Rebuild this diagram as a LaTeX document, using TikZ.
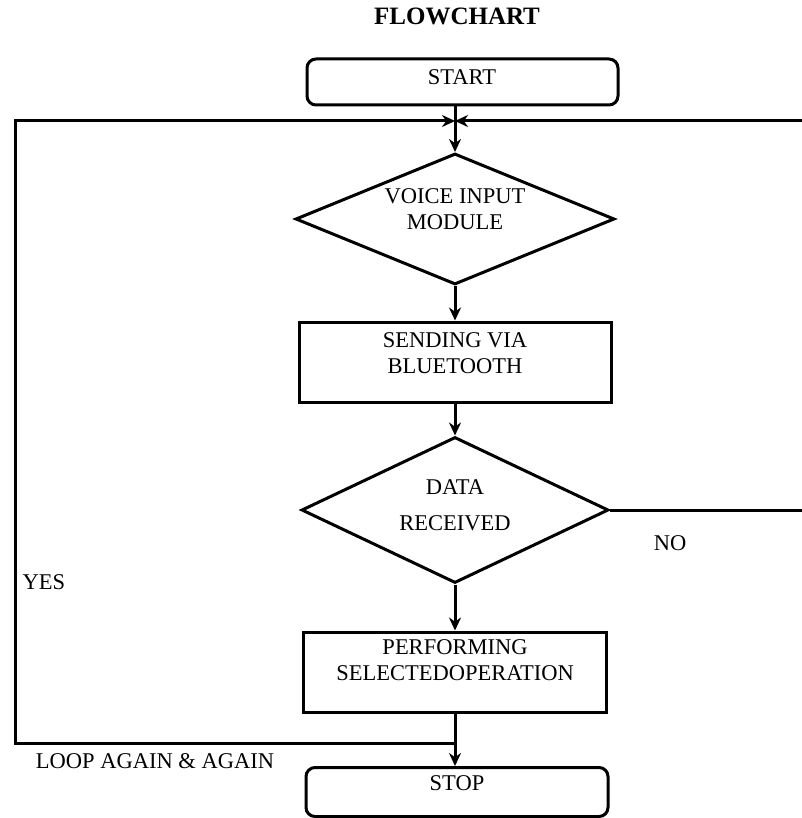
\documentclass[tikz,border=0pt]{standalone}
\usepackage{fontspec}
\setmainfont{Liberation Serif}
\usetikzlibrary{shapes.geometric,arrows.meta}
\begin{document}
\begin{tikzpicture}[x=1pt,y=-1pt,line width=3pt,line join=miter,
  arr/.style={-{Stealth[length=13pt,width=12pt]}},
  txt/.style={font=\fontsize{22.5}{26}\selectfont,inner sep=0pt,align=center},
  rbox/.style={draw,rectangle,rounded corners=9pt,inner sep=0pt},
  pbox/.style={draw,rectangle,inner sep=0pt},
  dbox/.style={draw,diamond,inner sep=0pt}]
\useasboundingbox (0,0) rectangle (801,818);
% title
\node[txt,font=\bfseries\fontsize{25}{28}\selectfont] (title) at (457,16) {FLOWCHART};
% shapes
\node[rbox,minimum width=311pt,minimum height=46pt] (start) at (462.5,82) {};
\node[dbox,minimum width=319pt,minimum height=131pt] (d1) at (455,219) {};
\node[pbox,minimum width=312pt,minimum height=80pt] (p1) at (455,362) {};
\node[dbox,minimum width=307pt,minimum height=146pt] (d2) at (455,510) {};
\node[pbox,minimum width=303pt,minimum height=80pt] (p2) at (455,672) {};
\node[rbox,minimum width=302pt,minimum height=49pt] (stop) at (457,792) {};
% texts
\node[txt] (tstart) at (462,77) {START};
\node[txt] (td1) at (455,209) {VOICE INPUT\\MODULE};
\node[txt] (tp1) at (455,353) {SENDING VIA\\BLUETOOTH};
\node[txt] (td2a) at (455,487) {DATA};
\node[txt] (td2b) at (455,523) {RECEIVED};
\node[txt] (tp2) at (455,660) {PERFORMING\\SELECTEDOPERATION};
\node[txt] (tstop) at (457,783) {STOP};
\node[txt] (no) at (670,543) {NO};
\node[txt] (yes) at (44,582) {YES};
\node[txt] (loop) at (155,761) {LOOP AGAIN \& AGAIN};
% junctions
\coordinate (J) at (455,121);
\coordinate (LT) at (15,121);
\coordinate (LB) at (15,743);
\coordinate (M) at (455,743);
\coordinate (RE) at (803,510);
\coordinate (RT) at (803,121);
% connectors
\draw (start.south -| J) -- (J);
\draw[arr] (J) -- (d1.north);
\draw[arr] (LB -| M) -- (LB) -- (LT) -- (J);
\draw[arr] (RT) -- (J);
\draw (d2.east) -- (RE);
\draw[arr] (d1.south) -- (p1.north);
\draw[arr] (p1.south) -- (d2.north);
\draw[arr] (d2.south) -- (p2.north);
\draw[arr] (p2.south) -- (stop.north -| p2.south);
\end{tikzpicture}
\end{document}
